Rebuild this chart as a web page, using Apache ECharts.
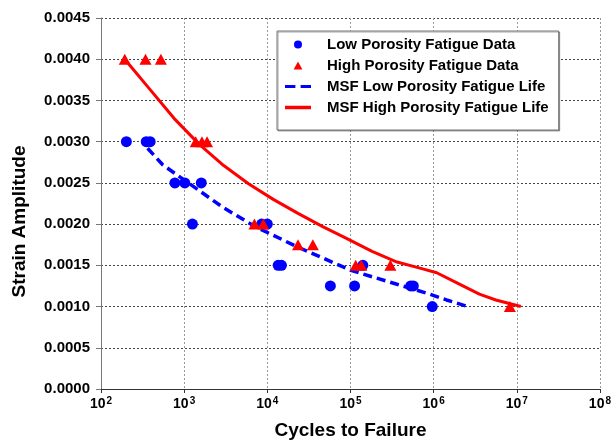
<!DOCTYPE html>
<html>
<head>
<meta charset="utf-8">
<script src="https://cdn.jsdelivr.net/npm/echarts@6/dist/echarts.min.js"></script>
<style>
  html, body { margin: 0; padding: 0; background: #fff; }
  #chart { width: 614px; height: 445px; }
</style>
</head>
<body>
<div id="chart"></div>
<script>
// measured data: [cycles, strain]
const lowData = [
  [202, 0.0030], [350, 0.0030], [390, 0.0030],
  [774, 0.0025], [1018, 0.0025], [1607, 0.0025],
  [1257, 0.0020], [8550, 0.0020], [10000, 0.0020],
  [13500, 0.0015], [14800, 0.0015], [141000, 0.0015],
  [57300, 0.00125], [112000, 0.00125], [530000, 0.00125], [570000, 0.00125],
  [963000, 0.0010]
]
const highData = [
  [193, 0.0040], [343, 0.0040], [525, 0.0040],
  [1377, 0.0030], [1637, 0.0030], [1885, 0.0030],
  [7000, 0.0020], [8950, 0.0020],
  [23400, 0.00175], [35300, 0.00175],
  [115600, 0.0015], [135000, 0.0015], [302000, 0.0015],
  [8260000, 0.0010]
]
// MSF model curves
const lowFit = [
  [363, 0.00292], [552, 0.00272], [1018, 0.00253], [2860, 0.00221],
  [7130, 0.00197], [23400, 0.00172], [101000, 0.00144], [363000, 0.00127],
  [904000, 0.00115], [1430000, 0.00108], [2590000, 0.00100]
]
const highFit = [
  [193, 0.00400], [383, 0.00364], [760, 0.00328], [1510, 0.00297],
  [2990, 0.00271], [5940, 0.00249], [11800, 0.00230], [23400, 0.00213],
  [46400, 0.00197], [92000, 0.00182], [182000, 0.00167], [363000, 0.00154],
  [720000, 0.00146], [1090000, 0.00141], [1880000, 0.00129],
  [3550000, 0.00115], [5600000, 0.00108], [11200000, 0.00100]
]

const chart = echarts.init(document.getElementById('chart'))
const boldFont = { fontFamily: 'Liberation Sans, Arial, sans-serif', fontWeight: 'bold', color: '#000' }

chart.setOption({
  animation: false,
  grid: { left: 101, right: 9, top: 18, bottom: 50 },
  legend: {
    orient: 'vertical',
    left: 277,
    top: 31,
    padding: [5, 10, 14, 8],
    itemGap: 4,
    itemWidth: 26,
    itemHeight: 8,
    backgroundColor: '#fff',
    borderColor: '#777',
    borderWidth: 1,
    shadowColor: 'rgba(0,0,0,0.35)',
    shadowBlur: 0,
    shadowOffsetX: 1,
    shadowOffsetY: 1,
    textStyle: Object.assign({ fontSize: 15, lineHeight: 17, padding: [0, 0, 0, 11] }, boldFont),
    data: [
      { name: 'Low Porosity Fatigue Data', icon: 'circle', itemStyle: { color: '#0000ff' } },
      { name: 'High Porosity Fatigue Data', icon: 'path://M0,10L5.5,0L11,10Z', itemStyle: { color: '#ff0000' } },
      { name: 'MSF Low Porosity Fatigue Life', icon: 'path://M0,0h10v3h-10z M15,0h10v3h-10z', itemStyle: { color: '#0000ff' } },
      { name: 'MSF High Porosity Fatigue Life', icon: 'path://M0,0h26v3.5h-26z', itemStyle: { color: '#ff0000' } }
    ]
  },
  xAxis: {
    type: 'log',
    logBase: 10,
    min: 100,
    max: 100000000,
    name: 'Cycles to Failure',
    nameLocation: 'middle',
    nameGap: 32,
    nameTextStyle: Object.assign({ fontSize: 19 }, boldFont),
    axisLine: { lineStyle: { color: '#333' } },
    axisTick: { length: 4, lineStyle: { color: '#333' } },
    splitLine: { show: true, lineStyle: { color: '#999', type: [2, 2] } },
    axisLabel: {
      margin: 7,
      formatter: function (v) {
        const p = Math.round(Math.log10(v))
        return '{b|10}{s|' + p + '}'
      },
      rich: {
        b: Object.assign({ fontSize: 14 }, boldFont),
        s: Object.assign({ fontSize: 10, verticalAlign: 'top', padding: [0, 0, 6, 1] }, boldFont)
      }
    }
  },
  yAxis: {
    type: 'value',
    min: 0,
    max: 0.0045,
    interval: 0.0005,
    name: 'Strain Amplitude',
    nameLocation: 'middle',
    nameGap: 72,
    nameTextStyle: Object.assign({ fontSize: 19, padding: [0, 36, 0, 0] }, boldFont),
    axisLine: { show: true, lineStyle: { color: '#777' } },
    axisTick: { show: true, length: 5, lineStyle: { color: '#777' } },
    splitLine: { lineStyle: { color: '#444', type: [2, 2] } },
    axisLabel: Object.assign({ fontSize: 15, margin: 11, formatter: v => v.toFixed(4) }, boldFont)
  },
  series: [
    {
      name: 'Low Porosity Fatigue Data',
      type: 'scatter',
      symbol: 'circle',
      symbolSize: 11,
      itemStyle: { color: '#0000ff', opacity: 1 },
      data: lowData,
      z: 3
    },
    {
      name: 'High Porosity Fatigue Data',
      type: 'scatter',
      symbol: 'triangle',
      symbolSize: [12, 11],
      itemStyle: { color: '#ff0000', opacity: 1 },
      data: highData,
      z: 4
    },
    {
      name: 'MSF Low Porosity Fatigue Life',
      type: 'line',
      symbol: 'none',
      itemStyle: { color: '#0000ff' },
      lineStyle: { color: '#0000ff', width: 3.5, type: [9, 5] },
      data: lowFit,
      z: 2
    },
    {
      name: 'MSF High Porosity Fatigue Life',
      type: 'line',
      symbol: 'none',
      itemStyle: { color: '#ff0000' },
      lineStyle: { color: '#ff0000', width: 3 },
      data: highFit,
      z: 2
    }
  ]
})
</script>
</body>
</html>
